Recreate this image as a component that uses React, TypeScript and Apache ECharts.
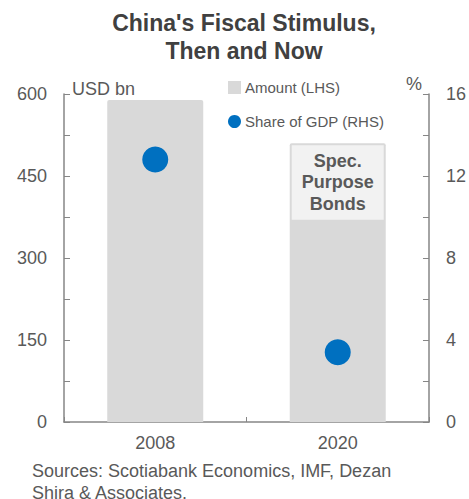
import React, { useEffect, useRef } from "react";
import * as echarts from "echarts";

const categories = ["2008", "2020"];
const amountUSDbn = [589, 510];
const shareOfGDP = [12.8, 3.4];
const leftTicks = { min: 0, max: 600, interval: 150 };
const rightTicks = { min: 0, max: 16, interval: 4 };
const annotation = "Spec.\nPurpose\nBonds";
const titleText = "China's Fiscal Stimulus,\nThen and Now";
const sourceText = "Sources: Scotiabank Economics, IMF, Dezan\nShira & Associates.";

const FONT = "'Liberation Sans', Arial, sans-serif";
const TXT = "#595959";
const AXIS = "#868686";

export default function App() {
  const ref = useRef<HTMLDivElement>(null);
  useEffect(() => {
    if (!ref.current) return;
    const chart = echarts.init(ref.current, null, { renderer: "svg" });
    chart.setOption({
      animation: false,
      textStyle: { fontFamily: FONT },
      title: {
        text: titleText,
        left: 244,
        textAlign: "center",
        top: 9,
        padding: 0,
        textStyle: { fontFamily: FONT, fontSize: 23, fontWeight: "bold", color: "#404040", lineHeight: 28 },
      },
      legend: {
        orient: "vertical",
        left: 223,
        top: 75,
        itemWidth: 13,
        itemHeight: 13,
        itemGap: 19,
        textStyle: { fontFamily: FONT, fontSize: 15, color: TXT, padding: [0, 0, 0, -1] },
        data: [
          { name: "Amount (LHS)", icon: "rect" },
          { name: "Share of GDP (RHS)", icon: "circle" },
        ],
      },
      grid: { left: 64, right: 37, top: 94, bottom: 77 },
      xAxis: {
        type: "category",
        data: categories,
        boundaryGap: true,
        axisLine: { lineStyle: { color: AXIS, width: 1.5 } },
        axisTick: { show: true, inside: true, length: 5, lineStyle: { color: AXIS } },
        axisLabel: { color: TXT, fontSize: 18, fontFamily: FONT, margin: 12 },
      },
      yAxis: [
        {
          type: "value",
          ...leftTicks,
          axisLine: { show: true, lineStyle: { color: AXIS, width: 1.5 } },
          axisTick: { show: true, inside: true, length: 6, lineStyle: { color: AXIS } },
          minorTick: { show: true, splitNumber: 2, length: 6, lineStyle: { color: AXIS } },
          splitLine: { show: false },
          axisLabel: { color: TXT, fontSize: 18, fontFamily: FONT, margin: 17 },
        },
        {
          type: "value",
          ...rightTicks,
          position: "right",
          axisLine: { show: true, lineStyle: { color: AXIS, width: 1.5 } },
          axisTick: { show: true, inside: true, length: 6, lineStyle: { color: AXIS } },
          minorTick: { show: true, splitNumber: 2, length: 6, lineStyle: { color: AXIS } },
          splitLine: { show: false },
          axisLabel: { color: TXT, fontSize: 18, fontFamily: FONT, margin: 17 },
        },
      ],
      series: [
        {
          name: "Amount (LHS)",
          type: "bar",
          yAxisIndex: 0,
          barWidth: 96,
          itemStyle: { color: "#d9d9d9", borderRadius: [2, 2, 0, 0] },
          data: amountUSDbn.map((v, i) =>
            i === 1
              ? {
                  value: v,
                  label: {
                    show: true,
                    position: "insideTop",
                    distance: 2,
                    formatter: annotation,
                    fontFamily: FONT,
                    fontSize: 18,
                    fontWeight: "bold",
                    color: TXT,
                    lineHeight: 21.5,
                    backgroundColor: "#f2f2f2",
                    width: 84,
                    align: "center",
                    padding: [5, 4, 5, 4],
                  },
                }
              : v
          ),
        },
        {
          name: "Share of GDP (RHS)",
          type: "scatter",
          yAxisIndex: 1,
          symbolSize: 26,
          itemStyle: { color: "#0070c0", opacity: 1 },
          data: shareOfGDP,
        },
      ],
      graphic: [
        {
          type: "text",
          left: 72,
          top: 80,
          style: { text: "USD bn", fontFamily: FONT, fontSize: 18, fill: TXT },
        },
        {
          type: "text",
          left: 406,
          top: 75,
          style: { text: "%", fontFamily: FONT, fontSize: 18, fill: TXT },
        },
        {
          type: "text",
          left: 32,
          top: 460,
          style: { text: sourceText, fontFamily: FONT, fontSize: 18, lineHeight: 22, fill: TXT },
        },
      ],
    });
    return () => chart.dispose();
  }, []);
  return <div ref={ref} style={{ position: "absolute", left: 0, top: 0, width: 469, height: 499 }} />;
}
